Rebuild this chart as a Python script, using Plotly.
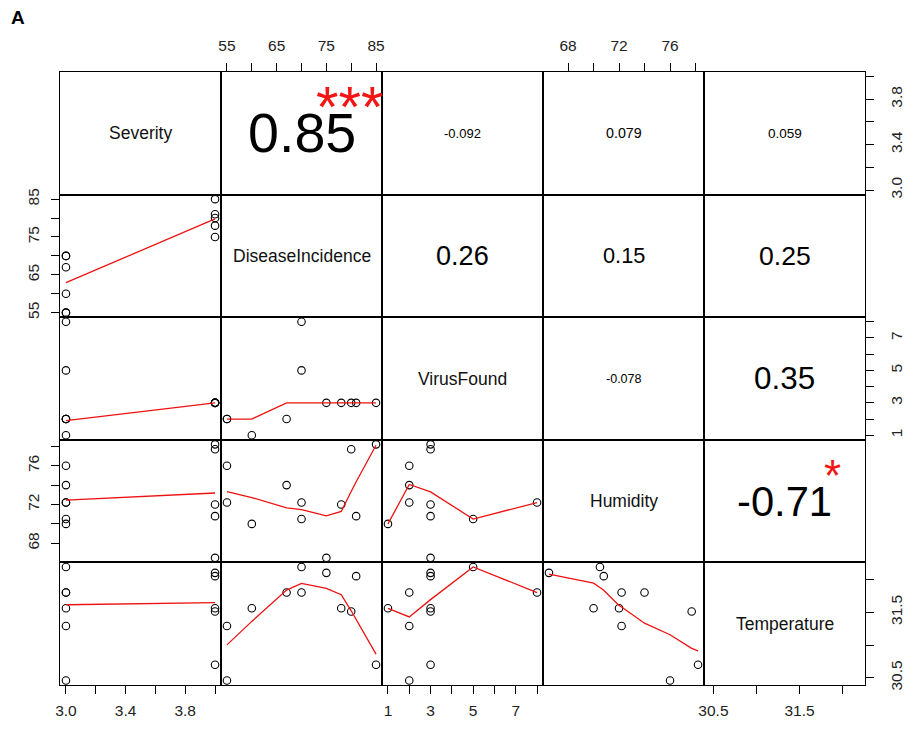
import numpy as np
import plotly.graph_objects as go

# ---------------- data ----------------
variables = ["Severity", "DiseaseIncidence", "VirusFound", "Humidity", "Temperature"]
severity = [3, 3, 3, 3, 3, 3, 4, 4, 4, 4, 4]
disease_incidence = [55, 55, 60, 67, 70, 70, 75, 78, 80, 81, 85]
virus_found = [2, 2, 1, 2, 8, 5, 3, 3, 3, 3, 3]
humidity = [76.0, 72.2, 70.0, 74.0, 72.2, 70.5, 66.5, 72.0, 77.7, 70.8, 78.2]
temperature = [30.46, 31.29, 31.56, 31.80, 31.80, 32.19, 32.10, 31.56, 31.51, 32.05, 30.70]

corr_pairs = [(0, 1), (0, 2), (0, 3), (0, 4), (1, 2), (1, 3), (1, 4), (2, 3), (2, 4), (3, 4)]
corr_values = [0.85, -0.092, 0.079, 0.059, 0.26, 0.15, 0.25, -0.078, 0.35, -0.71]
corr_signif = ["***", "", "", "", "", "", "", "", "", "*"]

tick_values = [
    [3.0, 3.2, 3.4, 3.6, 3.8, 4.0],
    [55, 60, 65, 70, 75, 80, 85],
    [1, 2, 3, 4, 5, 6, 7, 8],
    [68, 70, 72, 74, 76, 78],
    [30.5, 31.0, 31.5, 32.0],
]
tick_labels = [
    ["3.0", "", "3.4", "", "3.8", ""],
    ["55", "", "65", "", "75", "", "85"],
    ["1", "", "3", "", "5", "", "7", ""],
    ["68", "", "72", "", "76", ""],
    ["30.5", "", "31.5", ""],
]

data = [severity, disease_incidence, virus_found, humidity, temperature]


# ---------------- R's lowess (clowess) ----------------
def lowess(xv, yv, f=2 / 3, iters=3):
    x = np.asarray(xv, float)
    y = np.asarray(yv, float)
    o = np.argsort(x, kind="stable")
    x = x[o]
    y = y[o]
    n = len(x)
    delta = 0.01 * (x[-1] - x[0])
    ns = max(2, min(n, int(f * n + 1e-7)))
    ys = np.zeros(n)
    rw = np.ones(n)
    rng = x[-1] - x[0]

    def lowest(xs, nleft, nright, userw):
        h = max(xs - x[nleft], x[nright] - xs)
        h9 = 0.999 * h
        h1 = 0.001 * h
        w = np.zeros(n)
        a = 0.0
        j = nleft
        while j < n:
            r = abs(x[j] - xs)
            if r <= h9:
                if r <= h1:
                    w[j] = 1.0
                else:
                    w[j] = (1 - (r / h) ** 3) ** 3
                if userw:
                    w[j] *= rw[j]
                a += w[j]
            elif x[j] > xs:
                break
            j += 1
        nrt = j - 1
        if a <= 0:
            return None
        sl = slice(nleft, nrt + 1)
        w[sl] /= a
        if h > 0:
            a = np.sum(w[sl] * x[sl])
            b = xs - a
            c = np.sum(w[sl] * (x[sl] - a) ** 2)
            if np.sqrt(c) > 0.001 * rng:
                b /= c
                w[sl] *= (b * (x[sl] - a) + 1.0)
        return np.sum(w[sl] * y[sl])

    it = 1
    while it <= iters + 1:
        nleft = 0
        nright = ns - 1
        last = -1
        i = 0
        while True:
            if nright < n - 1:
                d1 = x[i] - x[nleft]
                d2 = x[nright + 1] - x[i]
                if d1 > d2:
                    nleft += 1
                    nright += 1
                    continue
            v = lowest(x[i], nleft, nright, it > 1)
            ys[i] = y[i] if v is None else v
            if last < i - 1:
                denom = x[i] - x[last]
                for j in range(last + 1, i):
                    alpha = (x[j] - x[last]) / denom
                    ys[j] = alpha * ys[i] + (1 - alpha) * ys[last]
            last = i
            cut = x[last] + delta
            i = last + 1
            while i < n:
                if x[i] > cut:
                    break
                if x[i] == x[last]:
                    ys[i] = ys[last]
                    last = i
                i += 1
            i = max(last + 1, i - 1)
            if last >= n - 1:
                break
        res = y - ys
        sc = np.mean(np.abs(res))
        if it > iters:
            break
        srt = np.sort(np.abs(res))
        m1 = n // 2
        if n % 2 == 0:
            cmad = 3 * (srt[m1] + srt[n - m1 - 1])
        else:
            cmad = 6 * srt[m1]
        if cmad < 1e-7 * sc:
            break
        c9 = 0.999 * cmad
        c1 = 0.001 * cmad
        r = np.abs(res)
        rw = np.where(r <= c1, 1.0, np.where(r <= c9, (1 - (r / cmad) ** 2) ** 2, 0.0))
        it += 1
    return x, ys


# ---------------- layout geometry ----------------
N = len(variables)
W, H = 905, 729
ml, mr, mt, mb = 60, 40, 72, 44
panel_w = (W - ml - mr) / N
FONT = "Liberation Sans, Arial, sans-serif"


def ext_range(v):
    lo, hi = min(v), max(v)
    d = (hi - lo) * 0.04
    return [lo - d, hi + d]


ranges = [ext_range(v) for v in data]

fig = go.Figure()
layout = dict(
    width=W, height=H, autosize=False,
    margin=dict(l=ml, r=mr, t=mt, b=mb, pad=0, autoexpand=False),
    paper_bgcolor="white", plot_bgcolor="white",
    showlegend=False,
    font=dict(family=FONT, color="black"),
)
annotations = []

for i in range(N):
    for j in range(N):
        k = i * N + j + 1
        sfx = "" if k == 1 else str(k)
        xa = dict(domain=[j / N, (j + 1) / N], anchor="y" + sfx, range=ranges[j],
                  showline=True, mirror=True, linecolor="black", linewidth=1.3,
                  showgrid=False, zeroline=False, showticklabels=False, ticks="",
                  automargin=False)
        ya = dict(domain=[1 - (i + 1) / N, 1 - i / N], anchor="x" + sfx, range=ranges[i],
                  showline=True, mirror=True, linecolor="black", linewidth=1.3,
                  showgrid=False, zeroline=False, showticklabels=False, ticks="",
                  automargin=False)
        tick_common = dict(ticks="outside", ticklen=8, tickwidth=1, tickcolor="black",
                           showticklabels=True,
                           tickfont=dict(family=FONT, size=15.5, color="#222"))
        if (i == 0 and j % 2 == 1) or (i == N - 1 and j % 2 == 0):
            xa.update(tick_common)
            xa.update(tickmode="array", tickvals=tick_values[j], ticktext=tick_labels[j],
                      side="top" if i == 0 else "bottom",
                      ticklabelstandoff=6 if i == 0 else 3)
        if (j == 0 and i % 2 == 1) or (j == N - 1 and i % 2 == 0):
            ya.update(tick_common)
            ya.update(tickmode="array", tickvals=tick_values[i], ticktext=tick_labels[i],
                      side="left" if j == 0 else "right", tickangle=-90,
                      ticklabelstandoff=6 if j == 0 else 9)
        layout["xaxis" + sfx] = xa
        layout["yaxis" + sfx] = ya

        if i > j:
            fig.add_trace(go.Scatter(
                x=data[j], y=data[i], mode="markers", xaxis="x" + sfx, yaxis="y" + sfx,
                marker=dict(symbol="circle-open", size=7.5, color="black",
                            line=dict(width=1.1, color="black")),
                hoverinfo="skip"))
            lx, ly = lowess(data[j], data[i])
            fig.add_trace(go.Scatter(
                x=lx, y=ly, mode="lines", xaxis="x" + sfx, yaxis="y" + sfx,
                line=dict(color="#ee1111", width=1.3), hoverinfo="skip"))
        elif i == j:
            fig.add_trace(go.Scatter(x=[None], y=[None], xaxis="x" + sfx, yaxis="y" + sfx))
            annotations.append(dict(
                xref="x" + sfx + " domain", yref="y" + sfx + " domain", x=0.5, y=0.5,
                xanchor="center", yanchor="middle",
                text=variables[i], showarrow=False,
                font=dict(family=FONT, size=17.5, color="#111")))
        else:
            fig.add_trace(go.Scatter(x=[None], y=[None], xaxis="x" + sfx, yaxis="y" + sfx))


def em_width(s):
    w = 0.0
    for ch in s:
        if ch.isdigit():
            w += 0.556
        elif ch == ".":
            w += 0.278
        elif ch == "-":
            w += 0.333
        else:
            w += 0.5
    return w


# vertical nudge and scale of the significance stars
star_shift = {"***": -10, "*": -11}
star_scale = {"***": 0.92, "*": 0.82}

for (a, b), r, sig in zip(corr_pairs, corr_values, corr_signif):
    k = a * N + b + 1
    sfx = "" if k == 1 else str(k)
    txt = f"{r:g}"
    base = 0.76 * panel_w / em_width(txt)
    size = base * (abs(r) + 0.3) / 1.3
    annotations.append(dict(
        xref="x" + sfx + " domain", yref="y" + sfx + " domain", x=0.5, y=0.5,
        xanchor="center", yanchor="middle",
        text=txt, showarrow=False, font=dict(family=FONT, size=size, color="black")))
    if sig:
        annotations.append(dict(
            xref="x" + sfx + " domain", yref="y" + sfx + " domain", x=0.8, y=0.8,
            xanchor="center", yanchor="middle",
            text=sig, showarrow=False, yshift=star_shift[sig],
            font=dict(family=FONT, size=base * star_scale[sig], color="#f41515")))

annotations.append(dict(
    xref="paper", yref="paper", x=(18 - ml) / (W - ml - mr), y=1 + (mt - 18) / (H - mt - mb),
    xanchor="center", yanchor="middle",
    text="<b>A</b>", showarrow=False, font=dict(family=FONT, size=19, color="black")))

layout["annotations"] = annotations
fig.update_layout(**layout)

fig.write_html("out.html", config={"displayModeBar": False},
               post_script="document.body.style.margin='0';document.body.style.overflow='hidden';")
